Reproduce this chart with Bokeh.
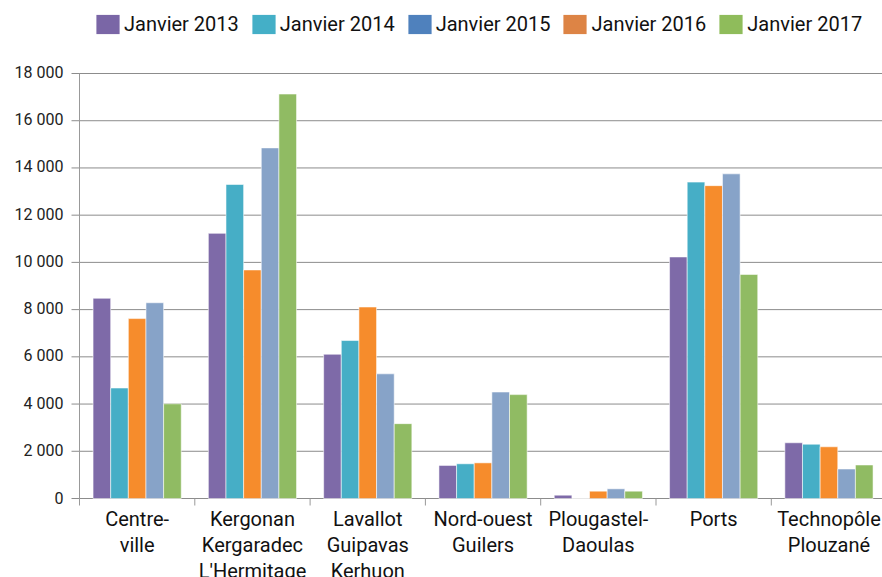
import numpy as np
from bokeh.plotting import figure
from bokeh.models import Range1d, ColumnDataSource, Legend, LegendItem
from bokeh.core.properties import value
from bokeh.embed import file_html
from bokeh.resources import INLINE

categories = ["Centre-\nville", "Kergonan\nKergaradec\nL'Hermitage", "Lavallot\nGuipavas\nKerhuon",
              "Nord-ouest\nGuilers", "Plougastel-\nDaoulas", "Ports", "Technopôle\nPlouzané"]
series_names = ["Janvier 2013", "Janvier 2014", "Janvier 2015", "Janvier 2016", "Janvier 2017"]
v2013 = [8480, 11230, 6110, 1400, 140, 10230, 2360]
v2014 = [4680, 13300, 6690, 1470, 0, 13400, 2300]
v2015 = [7620, 9680, 8110, 1510, 310, 13250, 2190]
v2016 = [8290, 14850, 5280, 4510, 410, 13750, 1250]
v2017 = [4010, 17130, 3170, 4400, 310, 9490, 1420]
y_ticks = [0, 2000, 4000, 6000, 8000, 10000, 12000, 14000, 16000, 18000]
y_tick_labels = ["0", "2 000", "4 000", "6 000", "8 000", "10 000", "12 000", "14 000", "16 000", "18 000"]

bar_colors = ["#7E6AA8", "#46AEC6", "#F68C2C", "#87A3C8", "#90BB63"]
legend_colors = ["#7A66A6", "#44AFC7", "#4F81BD", "#DD8445", "#8FBC5B"]
series = [v2013, v2014, v2015, v2016, v2017]

FONT = "Roboto"
W, H = 882, 577
AXIS_PX = 79                 # pixel column of the value axis
Y0_PX, YTOP_PX = 498, 73     # pixel rows of 0 and 18000
CAT_PX = 115.3               # width of one category, px
upp = 18000 / (Y0_PX - YTOP_PX)   # value units per pixel
xpp = 1.0 / CAT_PX                # category units per pixel

p = figure(width=W, height=H, output_backend="svg", toolbar_location=None,
           x_range=Range1d(-AXIS_PX * xpp, (W - AXIS_PX) * xpp),
           y_range=Range1d(-(H - Y0_PX) * upp, 18000 + YTOP_PX * upp),
           min_border_left=0, min_border_right=0, min_border_top=0, min_border_bottom=0)
p.outline_line_color = None
p.background_fill_color = "white"
p.border_fill_color = "white"
p.xaxis.visible = False
p.yaxis.visible = False
p.grid.visible = False

x_right = (W - AXIS_PX) * xpp
yt = np.array(y_ticks, dtype=float)
# horizontal gridlines, with their outer tick stub left of the axis
p.segment(x0=np.full(len(yt), -8 * xpp), y0=yt, x1=np.full(len(yt), x_right), y1=yt,
          line_color="#8C8C8C", line_width=1)
# value axis tick labels
p.text(x=np.full(len(yt), -16 * xpp), y=yt + 1 * upp, text=y_tick_labels,
       text_align="right", text_baseline="alphabetic", text_font=value(FONT),
       text_font_size="16px", text_color="#222222")

tick_len = 7 * upp
# value axis line
p.segment(x0=[0], y0=[-tick_len], x1=[0], y1=[18000], line_color="#999999", line_width=1)
# category boundary ticks
bounds = np.arange(1, len(categories) + 1)
p.segment(x0=bounds, y0=np.zeros(len(bounds)), x1=bounds, y1=np.full(len(bounds), -tick_len),
          line_color="#999999", line_width=1)

bw = 0.153
base = np.arange(len(categories)) + 0.5
for k, (vals, col) in enumerate(zip(series, bar_colors)):
    src = ColumnDataSource(dict(x=base + (k - 2) * bw, top=vals))
    p.vbar(x="x", top="top", width=bw, source=src, fill_color=col,
           line_color="white", line_alpha=0.55, line_width=1)

# category labels
p.text(x=base, y=np.full(len(categories), -8 * upp), text=categories,
       text_align="center", text_baseline="top", text_font=value(FONT),
       text_font_size="20px", text_color="#111111", text_line_height=1.1)

# legend (renderers kept off-view, carrying the legend colours)
items = []
for name, col in zip(series_names, legend_colors):
    r = p.vbar(x=[-5], top=[0], width=0.1, fill_color=col, line_color=None)
    items.append(LegendItem(label=name, renderers=[r]))
legend = Legend(items=items, orientation="horizontal", location=(93, H - 36),
                glyph_width=29, glyph_height=24, label_standoff=2, spacing=10,
                padding=0, margin=0, border_line_color=None, background_fill_alpha=0,
                label_text_font=FONT, label_text_font_size="20px", label_text_color="#111111")
p.add_layout(legend, "center")

open("out.html", "w").write(file_html(p, INLINE))
